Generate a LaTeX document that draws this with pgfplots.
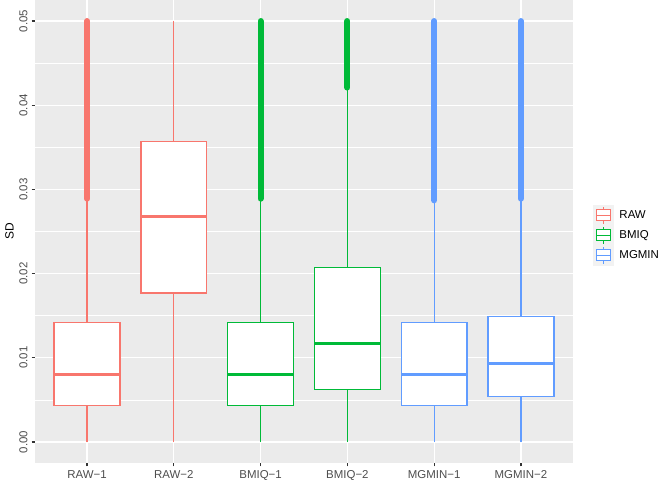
\documentclass[border=0pt]{standalone}
\usepackage{fontspec}
\setmainfont{Liberation Sans}
\usepackage{pgfplots}
\pgfplotsset{compat=1.18}
\definecolor{rawc}{HTML}{F8766D}
\definecolor{bmiqc}{HTML}{00BA38}
\definecolor{mgminc}{HTML}{619CFF}
\definecolor{panelbg}{HTML}{EBEBEB}
\definecolor{keybg}{HTML}{F2F2F2}
\definecolor{tickgray}{HTML}{4D4D4D}
\definecolor{tickmark}{HTML}{333333}
% #1 colour, #2 left, #3 centre, #4 right, #5 lower quartile, #6 median, #7 upper quartile, #8 upper whisker
\newcommand{\gbox}[8]{%
  \addplot[#1, line width=1.3bp] coordinates {(#3,0) (#3,#5)};
  \addplot[#1, line width=1.3bp] coordinates {(#3,#7) (#3,#8)};
  \addplot[draw=#1, fill=white, line width=1.3bp] coordinates {(#2,#5) (#4,#5) (#4,#7) (#2,#7)} -- cycle;
  \addplot[#1, line width=2.6bp] coordinates {(#2,#6) (#4,#6)};
}
\begin{document}
\begin{tikzpicture}
\begin{axis}[
  at={(0,0)}, anchor=south west,
  width=538bp, height=463bp, scale only axis,
  xmin=0.4, xmax=6.6, ymin=-0.0025, ymax=0.0525,
  axis background/.style={fill=panelbg},
  axis line style={draw=none},
  xtick={1,2,3,4,5,6},
  xticklabels={RAW−1,RAW−2,BMIQ−1,BMIQ−2,MGMIN−1,MGMIN−2},
  ytick={0,0.01,0.02,0.03,0.04,0.05},
  yticklabels={0.00,0.01,0.02,0.03,0.04,0.05},
  minor ytick={0.005,0.015,0.025,0.035,0.045},
  xmajorgrids, ymajorgrids, yminorgrids,
  major grid style={white, line width=1.3bp},
  minor grid style={white, line width=0.65bp},
  tick align=outside, tick pos=left,
  major tick length=3.4bp, minor tick length=0pt,
  tick style={color=tickmark, line width=1.2bp},
  tick label style={font=\fontsize{11.5}{13}\selectfont, text=tickgray},
  xticklabel style={yshift=-0.5bp},
  yticklabel style={rotate=90, anchor=south, yshift=0.5bp},
  ylabel={SD},
  ylabel style={font=\fontsize{12}{14}\selectfont, yshift=-1bp},
  legend style={at={(1.037,0.492)}, anchor=west, draw=none, fill=none,
    font=\fontsize{11.5}{13}\selectfont, row sep=0bp, column sep=4bp, inner sep=0pt},
  legend cell align=left,
  legend image code/.code={
    \fill[keybg] (0bp,-9.8bp) rectangle (20bp,9.8bp);
    \draw[line width=1.2bp] (10bp,-8.5bp) -- (10bp,8.5bp);
    \draw[line width=1.2bp, fill=white] (3bp,-5.5bp) rectangle (17bp,5.5bp);
    \draw[line width=1.2bp] (3bp,0bp) -- (17bp,0bp);
  },
]
\addlegendimage{draw=rawc}
\addlegendimage{draw=bmiqc}
\addlegendimage{draw=mgminc}
\legend{RAW,BMIQ,MGMIN}

% outliers (dense band of points from first outlier to 0.05)
\addplot[rawc, line width=6bp, line cap=round] coordinates {(1,0.0289) (1,0.05)};
\addplot[bmiqc, line width=6bp, line cap=round] coordinates {(3,0.0289) (3,0.05)};
\addplot[bmiqc, line width=6bp, line cap=round] coordinates {(4,0.0421) (4,0.05)};
\addplot[mgminc, line width=6bp, line cap=round] coordinates {(5,0.0287) (5,0.05)};
\addplot[mgminc, line width=6bp, line cap=round] coordinates {(6,0.0289) (6,0.05)};

\gbox{rawc}{0.62}{1}{1.38}{0.00437}{0.0080}{0.0142}{0.0289}
\gbox{rawc}{1.62}{2}{2.38}{0.0177}{0.0268}{0.0357}{0.05}
\gbox{bmiqc}{2.62}{3}{3.38}{0.00437}{0.0080}{0.0142}{0.0289}
\gbox{bmiqc}{3.62}{4}{4.38}{0.00623}{0.01167}{0.0207}{0.0421}
\gbox{mgminc}{4.62}{5}{5.38}{0.00437}{0.0080}{0.0142}{0.0287}
\gbox{mgminc}{5.62}{6}{6.38}{0.00544}{0.00932}{0.01488}{0.0289}
\end{axis}
\pgfresetboundingbox
\path[use as bounding box] (-35bp,-17bp) rectangle (626bp,463bp);
\end{tikzpicture}
\end{document}
